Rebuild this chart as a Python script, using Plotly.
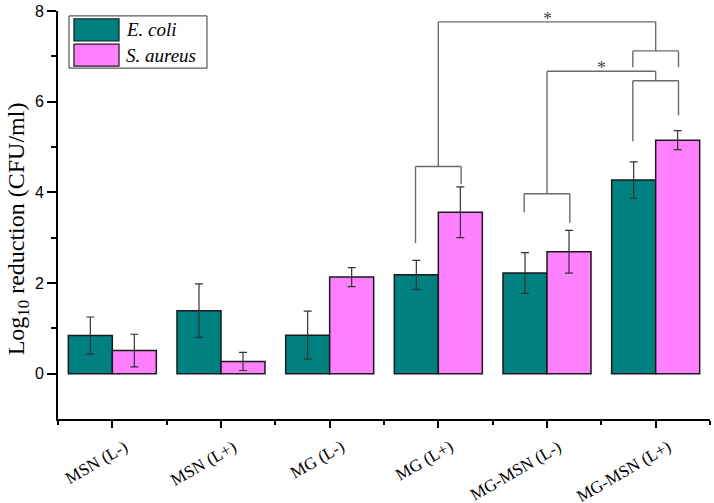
import plotly.graph_objects as go

categories = ["MSN (L-)", "MSN (L+)", "MG (L-)", "MG (L+)", "MG-MSN (L-)", "MG-MSN (L+)"]
ecoli_mean = [0.84, 1.39, 0.85, 2.18, 2.22, 4.27]
ecoli_err = [0.41, 0.59, 0.53, 0.32, 0.45, 0.40]
saureus_mean = [0.51, 0.27, 2.13, 3.56, 2.69, 5.15]
saureus_err = [0.36, 0.20, 0.21, 0.56, 0.47, 0.21]
series_names = ["E. coli", "S. aureus"]
y_ticks = [0, 2, 4, 6, 8]

# significance comparisons: (left group, right group, top level,
#  left sub-bracket level, left leg bottoms, right sub-bracket level, right leg bottoms)
comparisons = [
    (3, 5, 7.76, 4.57, (2.88, 4.18), 7.12, (6.76, 6.76)),
    (4, 5, 6.67, 3.97, (3.56, 3.33), 6.46, (5.12, 5.70)),
]

TEAL = "#008080"
PINK = "#FF80FF"
x_idx = list(range(len(categories)))

fig = go.Figure()
for name, means, errs, col in [
    (series_names[0], ecoli_mean, ecoli_err, TEAL),
    (series_names[1], saureus_mean, saureus_err, PINK),
]:
    fig.add_trace(go.Bar(
        x=x_idx, y=means, name=name, marker=dict(color=col, line=dict(color="#1a1a1a", width=1.5)),
        error_y=dict(type="data", array=errs, color="#333333", thickness=1.2, width=4),
        showlegend=False, hoverinfo="skip",
    ))

shapes = []
annotations = []
LC = "#6a6a6a"
LW = 1.4
half = 0.21


def seg(x0, y0, x1, y1):
    shapes.append(dict(type="line", xref="x", yref="y", x0=x0, y0=y0, x1=x1, y1=y1,
                       line=dict(color=LC, width=LW)))


for (ga, gb, top, la, (la1, la2), lb, (lb1, lb2)) in comparisons:
    for g, lev, b1, b2 in [(ga, la, la1, la2), (gb, lb, lb1, lb2)]:
        seg(g - half, lev, g + half, lev)
        seg(g - half, lev, g - half, b1)
        seg(g + half, lev, g + half, b2)
        seg(g, lev, g, top)
    seg(ga, top, gb, top)
    annotations.append(dict(x=(ga + gb) / 2, y=top, xref="x", yref="y", text="*", showarrow=False,
                            yanchor="bottom", yshift=-9,
                            font=dict(family="Liberation Serif", size=18, color="#444444")))

# category labels
for i, c in enumerate(categories):
    annotations.append(dict(x=i, y=-0.037, xref="x", yref="paper", text=c, showarrow=False,
                            textangle=-30, xanchor="right", yanchor="top", xshift=21,
                            font=dict(family="Liberation Serif", size=17, color="black")))

# y-axis title
annotations.append(dict(x=-0.0613, y=0.465, xref="paper", yref="paper",
                        text="Log<sub>10</sub> reduction (CFU/ml)", showarrow=False, textangle=-90,
                        xanchor="center", yanchor="middle",
                        font=dict(family="Liberation Serif", size=24, color="black")))

# legend
shapes.append(dict(type="rect", xref="paper", yref="paper", x0=0.0169, x1=0.2285, y0=0.860, y1=0.988,
                   line=dict(color="#333333", width=1), fillcolor="white", layer="above"))
for (y0, y1, col, name, yc) in [(0.9265, 0.981, TEAL, series_names[0], 0.954),
                                (0.865, 0.919, PINK, series_names[1], 0.892)]:
    shapes.append(dict(type="rect", xref="paper", yref="paper", x0=0.0245, x1=0.0936, y0=y0, y1=y1,
                       line=dict(color="#1a1a1a", width=1.2), fillcolor=col, layer="above"))
    annotations.append(dict(x=0.1012, y=yc, xref="paper", yref="paper", text="<i>%s</i>" % name,
                            showarrow=False, xanchor="left", yanchor="middle",
                            font=dict(family="Liberation Serif", size=19, color="black")))

fig.update_layout(
    width=714, height=503,
    margin=dict(l=58, r=4, t=11, b=84),
    plot_bgcolor="white", paper_bgcolor="white",
    barmode="group", bargap=0.19, bargroupgap=0,
    shapes=shapes, annotations=annotations,
    xaxis=dict(range=[-0.5, 5.5], tickmode="array", tickvals=x_idx, showticklabels=False,
               ticks="outside", ticklen=7, tickwidth=1.6, tickcolor="black",
               showline=True, linecolor="black", linewidth=1.6, showgrid=False, zeroline=False,
               minor=dict(tickmode="array", tickvals=[i + 0.5 for i in range(-1, 6)],
                          ticks="outside", ticklen=4, tickwidth=1.6, tickcolor="black")),
    yaxis=dict(range=[-1, 8], tickmode="array", tickvals=y_ticks,
               ticks="outside", ticklen=9, tickwidth=1.6, tickcolor="black",
               showline=True, linecolor="black", linewidth=1.6, showgrid=False, zeroline=False,
               tickfont=dict(family="Liberation Sans", size=16, color="black"),
               minor=dict(tickmode="array", tickvals=[1, 3, 5, 7],
                          ticks="outside", ticklen=5, tickwidth=1.6, tickcolor="black")),
)

fig.write_html("out.html", config={"displayModeBar": False},
               post_script="document.body.style.margin='0';document.body.style.padding='0';")
